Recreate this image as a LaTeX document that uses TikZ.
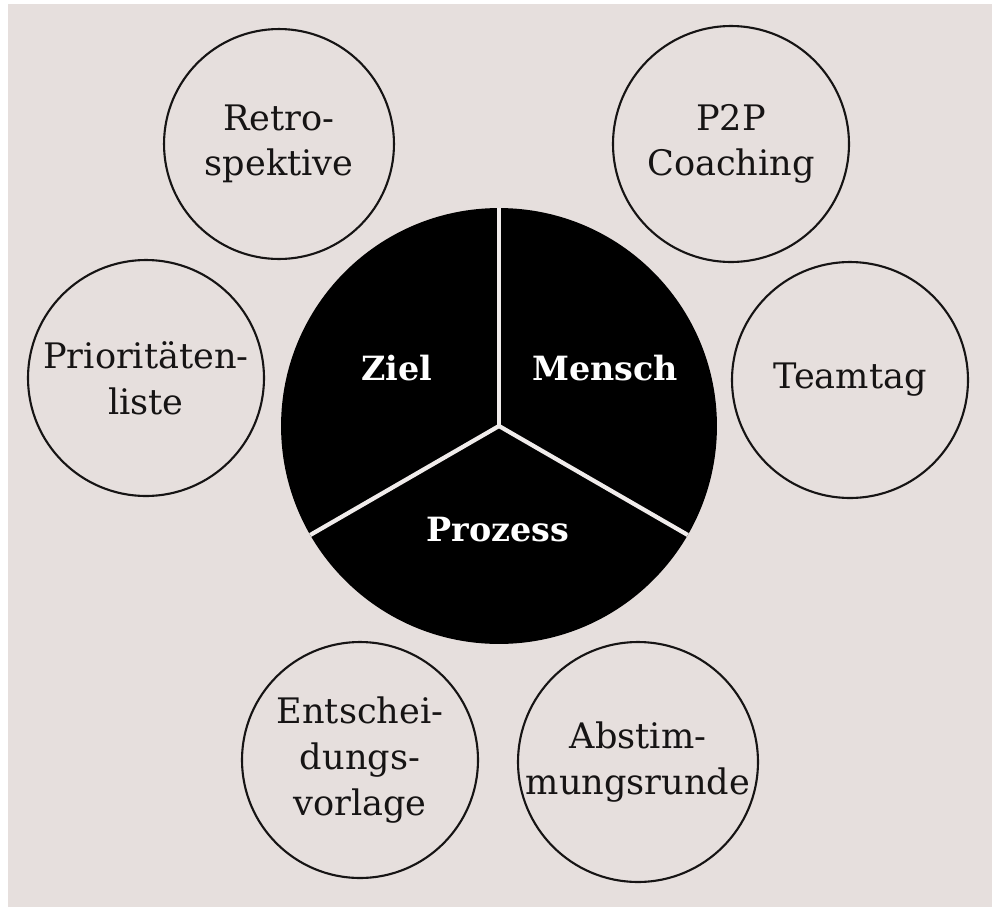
\documentclass[tikz,border=0pt]{standalone}
\usepackage{fontspec}
\setmainfont{DejaVu Serif}
\definecolor{pagebg}{RGB}{230,223,221}
\definecolor{inkdark}{RGB}{22,20,20}
\usetikzlibrary{positioning}

\tikzset{
  topic/.style={circle, draw=inkdark, line width=1.2pt, minimum size=4.72cm, inner sep=0pt,
    align=center, text=inkdark, font=\fontsize{20}{26}\selectfont},
  corelabel/.style={text=white, font=\fontsize{19}{23}\selectfont\bfseries},
  divider/.style={draw=pagebg!60!white, line width=2.4pt}
}

\begin{document}
\begin{tikzpicture}[x=0.02cm, y=-0.02cm]
  \useasboundingbox (0,0) rectangle (992,907);
  \fill[white] (0,0) rectangle (992,907);
  \fill[pagebg] (8,4) rectangle (992,907);
  % core circle
  \node[circle, fill=black, minimum size=8.72cm, inner sep=0pt, outer sep=0pt] (core) at (499,426) {};
  \draw[divider] (core.center) -- (core.90);
  \draw[divider] (core.center) -- (core.-30);
  \draw[divider] (core.center) -- (core.210);
  \node[corelabel] (ziel) at (397,368) {Ziel};
  \node[corelabel] (mensch) at (605,368) {Mensch};
  \node[corelabel] (prozess) at (498,530) {Prozess};
  % surrounding circles
  \node[topic, minimum size=4.6cm] (retro) at (279,144) {Retro-\\spektive};
  \node[topic] (coaching) at (731,144) {P2P\\Coaching};
  \node[topic] (prio) at (146,378) {Prioritäten-\\liste};
  \node[topic] (teamtag) at (850,380) {Teamtag};
  \node[topic] (vorlage) at (360,760) {Entschei-\\dungs-\\vorlage};
  \node[topic, minimum size=4.8cm] (runde) at (638,762) {Abstim-\\mungsrunde};
\end{tikzpicture}
\end{document}
